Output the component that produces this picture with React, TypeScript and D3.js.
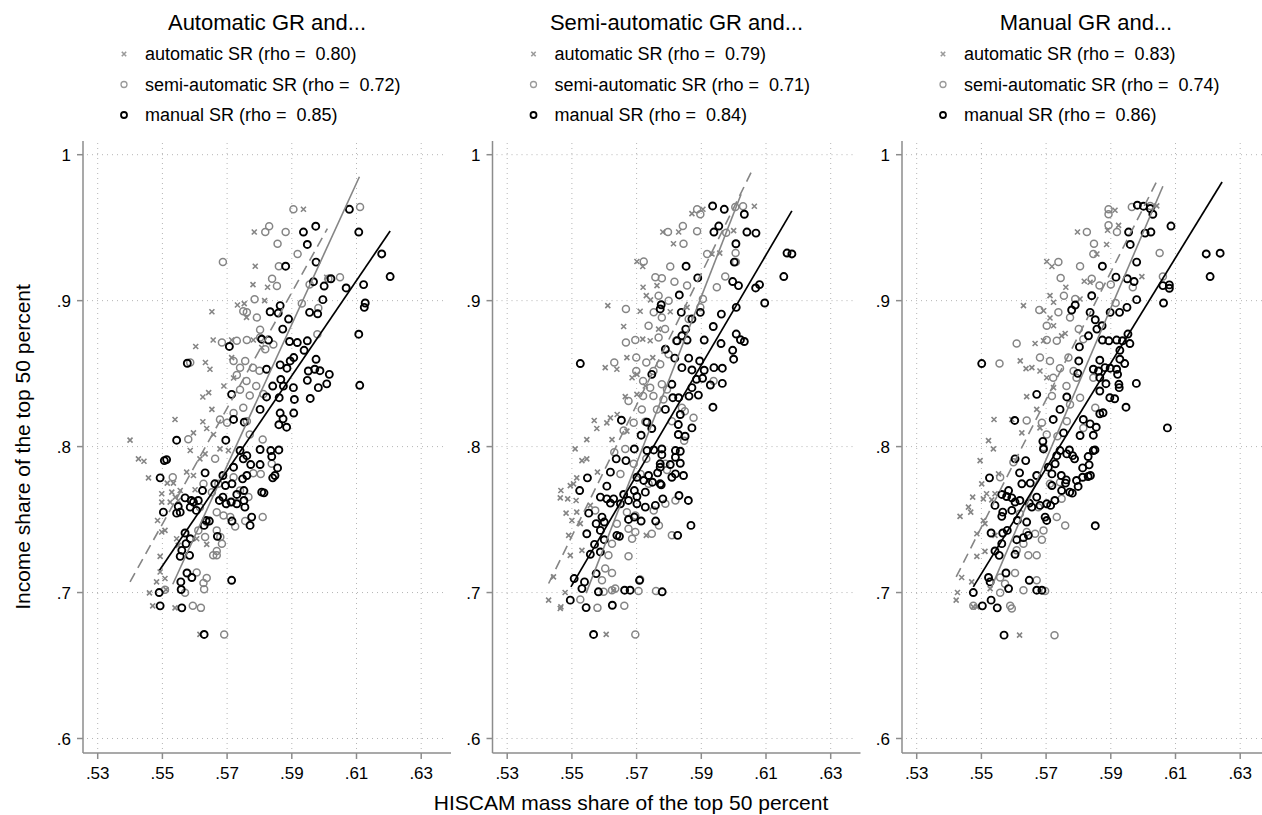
import React from "react";
import * as d3 from "d3";

type Pt = [number, number];

const panelTitles = ["Automatic GR and...", "Semi-automatic GR and...", "Manual GR and..."];
const seriesNames = ["automatic SR", "semi-automatic SR", "manual SR"];
const rhoValues = [
  ["0.80", "0.72", "0.85"],
  ["0.79", "0.71", "0.84"],
  ["0.83", "0.74", "0.86"],
];
const xTicks = [0.53, 0.55, 0.57, 0.59, 0.61, 0.63];
const yTicks = [0.6, 0.7, 0.8, 0.9, 1];

// panel 1: automatic GR
const p1Auto: Pt[] = [
  [.5936,.9626],[.5784,.947],[.5787,.9236],[.578,.911],[.5825,.9092],[.5816,.900],[.5732,.897],[.5753,.898],[.5653,.8924],[.576,.8885],[.5657,.873],[.5714,.873],[.5781,.873],[.5603,.8686],[.5714,.861],[.5633,.8576],[.5647,.853],[.572,.847],[.569,.8415],[.5643,.837],[.5625,.834],[.5653,.8255],[.5539,.8186],[.5625,.817],[.5596,.8094],[.5637,.8124],[.5658,.8083],[.540,.8044],[.5807,.8679],[.6008,.916],
  [.5426,.7916],[.5443,.79],[.5457,.7786],[.5515,.775],[.5534,.775],[.5498,.7677],[.5529,.7688],[.554,.7654],[.5549,.7631],[.5524,.762],[.5498,.762],[.5485,.7494],[.5508,.7426],[.5498,.7415],[.5544,.7369],[.5549,.7323],[.5606,.7369],[.5637,.733],[.5493,.7248],[.5493,.7141],[.5508,.7096],[.5482,.7073],[.546,.6998],[.5511,.702],[.547,.6909],[.5539,.6895],[.5616,.6713],[.5575,.7825],[.5596,.7802],[.5616,.7916],[.5586,.7973],[.5632,.795],[.5678,.7984],[.5704,.7973],[.5555,.7699],[.5601,.7704],
];
const p1Semi: Pt[] = [
  [.5905,.9626],[.6111,.9642],[.583,.951],[.5818,.947],[.5881,.947],[.5856,.939],[.5918,.932],[.5687,.9264],[.5860,.9236],[.5839,.915],[.5854,.910],[.5785,.901],[.6049,.916],[.5955,.911],[.6013,.915],[.5931,.898],[.5982,.895],[.5750,.8927],[.5761,.892],[.5792,.8885],[.5802,.880],[.5979,.877],[.5684,.8713],[.573,.8725],[.5761,.873],[.5802,.8747],[.5818,.8667],[.5843,.870],[.572,.8587],[.574,.854],[.5756,.8587],[.578,.854],[.580,.852],[.573,.849],[.576,.845],[.579,.8415],[.574,.839],[.577,.835],[.5812,.836],[.575,.8266],[.572,.823],[.5678,.8186],[.570,.8163],[.5761,.8174],[.5586,.8576],[.577,.8083],[.581,.8048],[.558,.805],
  [.5663,.7916],[.5838,.7882],[.572,.779],[.5781,.7818],[.5804,.7813],[.5532,.779],[.5673,.7745],[.5627,.7745],[.5653,.7688],[.574,.7699],[.5766,.7654],[.5715,.762],[.5616,.7585],[.5668,.7551],[.5689,.7528],[.571,.7517],[.5725,.7453],[.5756,.749],[.581,.7517],[.5637,.7483],[.5668,.7426],[.5679,.738],[.5684,.7335],[.5611,.7426],[.5632,.738],[.5668,.7285],[.5668,.7255],[.5657,.7255],[.5606,.7137],[.5637,.71],[.5627,.7066],[.5629,.7023],[.557,.6998],[.5508,.702],[.5594,.6909],[.5619,.6895],[.5691,.6713],
];
const p1Manual: Pt[] = [
  [.6078,.9626],[.5936,.947],[.5974,.951],[.6107,.947],[.5948,.9385],[.5881,.9236],[.5975,.9264],[.6178,.932],[.6204,.9165],[.5967,.913],[.600,.910],[.6021,.915],[.6068,.9087],[.6122,.911],[.5996,.9007],[.6127,.8984],[.6124,.8954],[.5864,.8966],[.5833,.8924],[.5858,.8915],[.589,.8874],[.5955,.892],[.598,.891],[.5872,.8805],[.6107,.877],[.5707,.8686],[.5807,.8736],[.5828,.873],[.5893,.872],[.5917,.8713],[.5948,.8725],[.5938,.866],[.5906,.861],[.5895,.8587],[.5975,.8598],[.5864,.856],[.5885,.8537],[.5822,.853],[.5951,.8518],[.5971,.853],[.5987,.852],[.6016,.8495],[.5866,.846],[.5948,.8454],[.6008,.843],[.5982,.8404],[.611,.842],[.5841,.8415],[.5874,.8415],[.5905,.8404],[.5714,.8358],[.5822,.834],[.5861,.8335],[.5908,.8323],[.5957,.833],[.5802,.8255],[.5864,.823],[.5906,.823],[.5720,.8186],[.5753,.8167],[.5873,.819],[.5860,.815],[.5884,.8133],[.5577,.8571],[.5544,.8044],[.5696,.8044],
  [.574,.7973],[.5802,.798],[.5835,.7973],[.586,.7977],[.5838,.7932],[.5761,.7938],[.575,.7916],[.5773,.7877],[.5802,.7877],[.5856,.7854],[.5848,.7802],[.5841,.7786],[.5761,.7802],[.5748,.7779],[.572,.7859],[.5687,.7802],[.5715,.7745],[.5695,.7733],[.5807,.7688],[.5814,.7683],[.573,.7672],[.5752,.7699],[.573,.7608],[.5752,.7631],[.5755,.7585],[.5712,.762],[.5697,.7608],[.5676,.7631],[.5687,.7654],[.5662,.7745],[.5632,.782],[.5624,.7699],[.5611,.7631],[.5596,.762],[.5589,.7631],[.5570,.7649],[.5586,.7585],[.5605,.7563],[.5549,.759],[.5555,.7551],[.5544,.7544],[.5503,.7551],[.5513,.7911],[.5506,.7904],[.5493,.7786],[.5635,.7494],[.5645,.749],[.5629,.746],[.5715,.749],[.5776,.7517],[.5771,.746],[.557,.7408],[.5586,.7369],[.5670,.7385],[.5573,.7335],[.5560,.7289],[.5555,.7248],[.5584,.7255],[.5576,.7134],[.5591,.7103],[.5557,.7073],[.5558,.7021],[.549,.70],[.5493,.6909],[.556,.6895],[.5714,.7084],[.5629,.6713],
];

// panel 2: semi-automatic GR
const p2Auto: Pt[] = [
  [.5871,.9596],[.5905,.9626],[.6064,.9647],[.6,.948],[.5781,.947],[.583,.947],[.5814,.939],[.5933,.932],[.5957,.9326],[.5701,.9268],[.5719,.9234],[.572,.9092],[.5763,.9103],[.573,.9034],[.5743,.9005],[.5611,.8966],[.5711,.8927],[.5856,.8954],[.5804,.8924],[.566,.8823],[.5768,.8805],[.5719,.8736],[.5742,.8725],[.5670,.861],[.575,.861],[.5603,.8541],[.5639,.853],[.5686,.8472],[.5701,.8495],[.5727,.8415],[.5665,.8342],[.5701,.8358],[.5619,.8197],[.564,.822],[.5569,.8179],[.5577,.8124],[.5608,.8163],[.5546,.8048],[.5624,.8048],[.567,.8106],
  [.551,.7984],[.5531,.7904],[.5546,.7916],[.5579,.7825],[.5515,.7786],[.5495,.7733],[.5505,.7745],[.5466,.7699],[.5464,.7649],[.5487,.7642],[.5513,.7631],[.5482,.7544],[.5515,.7551],[.55,.7494],[.549,.7392],[.5531,.7289],[.5495,.7255],[.5443,.7107],[.5479,.70],[.5428,.6948],[.5466,.6902],[.5464,.6891],[.5606,.6713],[.5629,.7016],[.573,.7392],[.5557,.7597],[.5526,.7472],
];
const p2Semi: Pt[] = [
  [.5887,.9626],[.5897,.9592],[.6029,.9647],[.6005,.9642],[.5797,.947],[.5843,.9511],[.5887,.9475],[.5977,.9466],[.5845,.939],[.6006,.9326],[.5918,.932],[.6007,.9264],[.5722,.9268],[.5804,.9234],[.5758,.916],[.5778,.9154],[.5817,.913],[.5856,.9103],[.5974,.9165],[.5948,.9092],[.5905,.9011],[.5768,.9034],[.5799,.900],[.5897,.8954],[.5753,.892],[.5667,.8943],[.5737,.8828],[.5788,.8805],[.5861,.8874],[.5778,.8885],[.5667,.8713],[.5696,.873],[.5768,.8748],[.5822,.8725],[.5631,.8576],[.5699,.861],[.573,.8576],[.5773,.8564],[.5752,.8518],[.5799,.8633],[.5699,.8518],[.572,.845],[.5778,.8427],[.5742,.8404],[.5794,.8392],[.572,.8346],[.5752,.8346],[.5783,.8323],[.584,.8266],[.5716,.8255],[.5763,.8255],[.5675,.8312],[.5938,.845],[.5849,.8243],[.5691,.8163],[.5727,.817],[.566,.811],[.5809,.8174],[.5876,.8197],
  [.5665,.7984],[.5631,.7961],[.573,.7916],[.5847,.804],[.5789,.7882],[.5794,.784],[.5691,.7882],[.565,.7813],[.5712,.7813],[.5737,.7745],[.582,.7631],[.5789,.7608],[.5753,.7563],[.5769,.746],[.567,.7551],[.5696,.7528],[.5675,.7437],[.5696,.7415],[.5686,.7369],[.5747,.7403],[.5809,.7392],[.5624,.7335],[.5613,.7255],[.5675,.7248],[.5624,.7134],[.5634,.7027],[.5598,.7005],[.5624,.7016],[.5706,.7011],[.576,.7011],[.5711,.7089],[.5526,.6952],[.5579,.6895],[.5662,.6909],[.5696,.6713],[.5603,.7164],[.5593,.7084],[.5572,.7563],[.5639,.7472],
];
const p2Manual: Pt[] = [
  [.5935,.9649],[.5971,.9626],[.6033,.9592],[.5954,.9511],[.5939,.947],[.6041,.947],[.6069,.9463],[.6007,.939],[.6165,.9326],[.618,.932],[.6002,.9264],[.5853,.9236],[.6155,.9165],[.5889,.9156],[.5997,.9131],[.6015,.9103],[.608,.911],[.6068,.9087],[.6096,.8984],[.5832,.9039],[.5776,.8972],[.5773,.8943],[.5838,.892],[.5897,.892],[.6008,.8954],[.5962,.8908],[.5871,.8874],[.5937,.8823],[.5852,.8805],[.584,.8759],[.5825,.8725],[.5856,.873],[.5909,.873],[.5961,.8706],[.6008,.8771],[.6021,.8732],[.6033,.872],[.5789,.8667],[.5818,.8606],[.5861,.8606],[.5895,.8587],[.5997,.866],[.6,.8599],[.584,.8541],[.5871,.8525],[.5939,.8541],[.5965,.8537],[.5909,.8523],[.5885,.8461],[.5904,.8468],[.5928,.8422],[.5965,.8433],[.5747,.8495],[.5809,.8427],[.5871,.8404],[.5812,.8335],[.583,.8335],[.5862,.8346],[.5891,.8353],[.5936,.827],[.5789,.8255],[.5835,.822],[.5871,.8128],[.5829,.8151],[.5653,.8181],[.5732,.8167],[.5747,.8124],[.5829,.8083],[.585,.8071],[.5714,.8078],[.5526,.8569],
  [.5693,.7984],[.5732,.7973],[.5753,.7977],[.5778,.7984],[.582,.7973],[.5835,.7968],[.5778,.7945],[.5637,.7916],[.5667,.7904],[.582,.7927],[.5773,.7882],[.5835,.7886],[.5773,.7859],[.5804,.7877],[.582,.7813],[.5845,.7802],[.5809,.779],[.5765,.782],[.5737,.7802],[.5701,.779],[.5722,.7768],[.5749,.7756],[.5773,.7745],[.5776,.7738],[.5619,.7825],[.5548,.7786],[.5524,.7699],[.5608,.7729],[.5693,.7699],[.5727,.7688],[.5701,.7658],[.566,.7672],[.5588,.7654],[.5608,.7642],[.5629,.7642],[.5619,.7613],[.565,.7608],[.5675,.7631],[.5701,.7608],[.5727,.7585],[.5758,.7597],[.5781,.7642],[.5831,.7665],[.586,.7631],[.5868,.746],[.5552,.7544],[.5593,.7517],[.56,.7483],[.5575,.7472],[.5675,.7501],[.5693,.7517],[.5714,.749],[.5759,.749],[.5588,.7426],[.5546,.7403],[.5639,.7392],[.5647,.7385],[.56,.7362],[.557,.733],[.5588,.7278],[.5557,.7262],[.5575,.713],[.5507,.7096],[.5539,.7073],[.5531,.7027],[.5582,.7005],[.5663,.7016],[.568,.7016],[.5709,.7084],[.5779,.7005],[.5495,.6948],[.5544,.6897],[.5625,.6913],[.5567,.6713],[.5827,.7392],
];

// panel 3: manual GR
const p3Auto: Pt[] = [
  [.5913,.9619],[.6042,.9649],[.5797,.947],[.589,.9482],[.5924,.9516],[.5887,.9385],[.5857,.932],[.5702,.9268],[.5718,.9234],[.5996,.9165],[.5818,.9133],[.5836,.9126],[.5761,.9092],[.5712,.9034],[.5723,.8989],[.563,.8966],[.5692,.8931],[.5712,.8881],[.5723,.8828],[.5759,.8775],[.5805,.9011],[.5666,.8706],[.5692,.8725],[.5748,.8759],[.562,.8587],[.5638,.8534],[.5656,.8541],[.5681,.8518],[.5702,.8472],[.564,.8342],[.5723,.8404],[.5671,.8255],[.5539,.8186],[.5594,.8186],[.5625,.8094],[.5681,.8128],[.5522,.8041],
  [.5537,.7984],[.5496,.7904],[.5501,.7745],[.5553,.7813],[.5516,.7677],[.5506,.7642],[.5532,.7635],[.5542,.7677],[.5473,.7654],[.546,.7585],[.5467,.7551],[.5434,.7522],[.5506,.7494],[.5511,.7472],[.5486,.7403],[.5542,.7392],[.5486,.7248],[.5511,.7282],[.5439,.7103],[.547,.7073],[.5426,.70],[.5422,.6948],[.5475,.6902],[.5486,.6902],[.5618,.6708],[.5527,.7027],
];
const p3Semi: Pt[] = [
  [.5893,.9626],[.5893,.9592],[.5965,.9642],[.6022,.9649],[.5826,.947],[.5893,.9516],[.5919,.947],[.5848,.939],[.5846,.932],[.6051,.9326],[.5738,.9264],[.5805,.9236],[.5745,.9156],[.5841,.915],[.5865,.9103],[.59,.911],[.6061,.9165],[.5968,.9092],[.5755,.9034],[.579,.9011],[.5915,.8984],[.5679,.8936],[.5702,.8828],[.5738,.892],[.5774,.8885],[.5801,.8805],[.5609,.8706],[.5702,.873],[.5733,.8725],[.5815,.8736],[.5556,.8569],[.5681,.861],[.5712,.8587],[.5769,.861],[.5743,.8537],[.5785,.8518],[.5722,.8472],[.5763,.8415],[.5794,.8472],[.5846,.8472],[.5718,.8346],[.5805,.8335],[.5774,.8289],[.564,.8179],[.5687,.8163],[.5852,.8266],[.5764,.8174],[.5815,.8128],[.5702,.8083],[.5735,.8071],
  [.5692,.7995],[.5671,.7802],[.5743,.7756],[.5748,.7642],[.5733,.7517],[.5759,.746],[.564,.7415],[.5666,.7403],[.5692,.7426],[.5687,.7362],[.563,.7335],[.5609,.7289],[.5645,.7255],[.5671,.7255],[.5604,.7134],[.5558,.7103],[.5573,.7061],[.563,.7016],[.5671,.7084],[.5558,.6998],[.5697,.7011],[.5475,.6909],[.5589,.6909],[.5594,.6891],[.5726,.6708],[.5599,.7893],[.5558,.779],[.5619,.754],[.5676,.7585],[.5712,.7745],
];
const p3Manual: Pt[] = [
  [.5982,.9654],[.6001,.9647],[.6022,.9631],[.603,.9592],[.6086,.9511],[.5955,.947],[.6006,.9463],[.6024,.947],[.596,.9385],[.598,.9264],[.5874,.9236],[.5916,.9161],[.5951,.915],[.5972,.9131],[.6061,.9103],[.6081,.9108],[.6081,.9085],[.5841,.9034],[.598,.9007],[.6063,.8984],[.595,.8954],[.579,.897],[.5779,.8936],[.5836,.892],[.5898,.892],[.5927,.892],[.5852,.8869],[.5873,.8828],[.5857,.8805],[.5831,.8759],[.5953,.8771],[.5959,.8706],[.5874,.873],[.5894,.8725],[.5918,.873],[.5936,.8725],[.5803,.8683],[.5928,.866],[.5801,.8587],[.5866,.8592],[.5928,.8599],[.5943,.8569],[.5846,.853],[.5862,.8518],[.5882,.8541],[.5898,.8537],[.5918,.853],[.5921,.8495],[.5798,.8502],[.5866,.8472],[.5885,.8431],[.5925,.8427],[.5926,.8404],[.5979,.8433],[.5866,.8381],[.5897,.8335],[.5912,.8328],[.5671,.8358],[.5764,.834],[.5947,.827],[.5743,.8255],[.5722,.8186],[.5866,.8225],[.5876,.8232],[.5815,.8186],[.5836,.8156],[.5855,.8133],[.6075,.8128],[.5603,.8179],[.5754,.8094],[.5805,.8076],[.5846,.8078],[.5501,.8569],[.6195,.932],[.6238,.9325],[.6207,.9165],
  [.569,.8036],[.5604,.7916],[.5637,.7904],[.5692,.7984],[.5743,.7973],[.5772,.7977],[.5782,.7938],[.5788,.7916],[.5764,.795],[.5733,.7938],[.5728,.7882],[.5707,.7859],[.5618,.782],[.5525,.7786],[.5625,.7745],[.5651,.775],[.5671,.7802],[.5747,.7802],[.5762,.7772],[.576,.775],[.5748,.7699],[.5773,.7688],[.5781,.7681],[.5718,.7813],[.5718,.7733],[.5799,.7727],[.5794,.7768],[.5813,.779],[.583,.7795],[.5833,.7875],[.5813,.7854],[.583,.7932],[.5846,.7973],[.5851,.7977],[.5837,.7802],[.5584,.7699],[.5563,.7672],[.5578,.7658],[.5594,.7649],[.5604,.762],[.5619,.7631],[.5648,.7613],[.5671,.7654],[.5656,.7585],[.5681,.7597],[.5702,.7608],[.5714,.7597],[.5727,.7631],[.5542,.7597],[.5566,.7551],[.5563,.7522],[.5594,.7563],[.5611,.7494],[.564,.7483],[.5697,.7517],[.5702,.7494],[.553,.7408],[.5566,.7408],[.558,.7426],[.5609,.7362],[.563,.7376],[.5645,.7392],[.5542,.7285],[.5555,.7255],[.5563,.7335],[.5604,.7262],[.5522,.7103],[.5527,.7073],[.5576,.7134],[.5584,.7027],[.5648,.7084],[.5671,.7016],[.5687,.7016],[.5475,.70],[.5503,.6909],[.553,.6948],[.5549,.6895],[.557,.6708],[.5852,.7458],
];

// fitted lines, endpoints: [auto, semi, manual] per panel
const fitLines: Pt[][][] = [
  [[[.540,.7073],[.601,.9493]], [[.5532,.7057],[.6109,.9849]], [[.5491,.7153],[.6204,.9477]]],
  [[[.5428,.7062],[.6055,.9883]], [[.5544,.6996],[.6023,.9729]], [[.5497,.7039],[.618,.9615]]],
  [[[.5422,.7107],[.6045,.983]], [[.553,.703],[.6061,.9784]], [[.5475,.7039],[.6244,.9813]]],
];

const panelData: Pt[][][] = [
  [p1Auto, p1Semi, p1Manual],
  [p2Auto, p2Semi, p2Manual],
  [p3Auto, p3Semi, p3Manual],
];

const W = 1262;
const H = 815;
const FONT = "'Liberation Sans', Arial, Helvetica, sans-serif";
const GRAY = "#858585";
const AXIS = "#8c8c8c";
const panelLeft = [83, 492.5, 902];
const plotW = 368;
const plotTop = 141;
const plotBottom = 753;

const y = d3.scaleLinear().domain([0.6, 1]).range([738.5, 154.7]);

function XMark({ cx, cy, s, color }: { cx: number; cy: number; s: number; color: string }) {
  return (
    <path
      d={`M${cx - s},${cy - s}L${cx + s},${cy + s}M${cx - s},${cy + s}L${cx + s},${cy - s}`}
      stroke={color}
      strokeWidth={1.6}
      fill="none"
    />
  );
}

function Panel({ idx }: { idx: number }) {
  const left = panelLeft[idx];
  const x = d3.scaleLinear().domain([0.53, 0.63]).range([left + 14.7, left + 14.7 + 323.5]);
  const [auto, semi, manual] = panelData[idx];
  const line = d3.line<Pt>().x((d) => x(d[0])).y((d) => y(d[1]));
  const cx = left + plotW / 2;

  return (
    <g>
      {/* title + legend */}
      <text x={cx} y={30} textAnchor="middle" fontSize={22} fontFamily={FONT}>
        {panelTitles[idx]}
      </text>
      {seriesNames.map((name, i) => {
        const ly = 54 + i * 30.5;
        const mx = left + 41;
        return (
          <g key={name}>
            {i === 0 && <XMark cx={mx} cy={ly} s={2.2} color="#9a9a9a" />}
            {i === 1 && <circle cx={mx} cy={ly} r={3} fill="none" stroke="#9a9a9a" strokeWidth={1.3} />}
            {i === 2 && <circle cx={mx} cy={ly} r={3} fill="none" stroke="#000" strokeWidth={1.8} />}
            <text
              x={left + 62}
              y={ly + 6}
              fontSize={18}
              fontFamily={FONT}
              style={{ whiteSpace: "pre" }}
            >
              {`${name} (rho =  ${rhoValues[idx][i]})`}
            </text>
          </g>
        );
      })}

      {/* grid */}
      {xTicks.map((t) => (
        <line key={"gx" + t} x1={x(t)} x2={x(t)} y1={plotTop + 2} y2={plotBottom - 2}
          stroke="#b5b5b5" strokeWidth={1} strokeDasharray="1 4" />
      ))}
      {yTicks.map((t) => (
        <line key={"gy" + t} x1={left + 4} x2={left + plotW - 4} y1={y(t)} y2={y(t)}
          stroke="#b5b5b5" strokeWidth={1} strokeDasharray="1 4" />
      ))}

      {/* axes */}
      <line x1={left} x2={left} y1={plotTop} y2={plotBottom} stroke={AXIS} strokeWidth={1.5} />
      <line x1={left} x2={left + plotW} y1={plotBottom} y2={plotBottom} stroke={AXIS} strokeWidth={1.5} />
      {yTicks.map((t) => (
        <g key={"ty" + t}>
          <line x1={left - 6} x2={left} y1={y(t)} y2={y(t)} stroke={AXIS} strokeWidth={1.5} />
          <text x={left - 12} y={y(t) + 6} textAnchor="end" fontSize={17} fontFamily={FONT}>
            {t === 1 ? "1" : d3.format(".1f")(t).replace(/^0/, "")}
          </text>
        </g>
      ))}
      {xTicks.map((t) => (
        <g key={"tx" + t}>
          <line x1={x(t)} x2={x(t)} y1={plotBottom} y2={plotBottom + 6} stroke={AXIS} strokeWidth={1.5} />
          <text x={x(t)} y={779} textAnchor="middle" fontSize={17} fontFamily={FONT}>
            {d3.format(".2f")(t).replace(/^0/, "")}
          </text>
        </g>
      ))}

      {/* points */}
      {auto.map((d, i) => (
        <XMark key={"a" + i} cx={x(d[0])} cy={y(d[1])} s={2.5} color={GRAY} />
      ))}
      {semi.map((d, i) => (
        <circle key={"s" + i} cx={x(d[0])} cy={y(d[1])} r={3.5} fill="none" stroke={GRAY} strokeWidth={1.5} />
      ))}
      {manual.map((d, i) => (
        <circle key={"m" + i} cx={x(d[0])} cy={y(d[1])} r={3.5} fill="none" stroke="#000" strokeWidth={1.9} />
      ))}

      {/* fit lines */}
      <path d={line(fitLines[idx][0]) || ""} stroke={GRAY} strokeWidth={1.6} fill="none" strokeDasharray="10 6" />
      <path d={line(fitLines[idx][1]) || ""} stroke={GRAY} strokeWidth={1.6} fill="none" />
      <path d={line(fitLines[idx][2]) || ""} stroke="#000" strokeWidth={1.7} fill="none" />
    </g>
  );
}

export default function App() {
  return (
    <div style={{ position: "absolute", left: 0, top: 0 }}>
      <svg width={W} height={H} style={{ display: "block", background: "#fff" }}>
        <rect width={W} height={H} fill="#fff" />
        {[0, 1, 2].map((i) => (
          <Panel key={i} idx={i} />
        ))}
        <text
          transform={`translate(30,${(plotTop + plotBottom) / 2}) rotate(-90)`}
          textAnchor="middle"
          fontSize={21}
          fontFamily={FONT}
        >
          Income share of the top 50 percent
        </text>
        <text x={631} y={810} textAnchor="middle" fontSize={21} fontFamily={FONT}>
          HISCAM mass share of the top 50 percent
        </text>
      </svg>
    </div>
  );
}
